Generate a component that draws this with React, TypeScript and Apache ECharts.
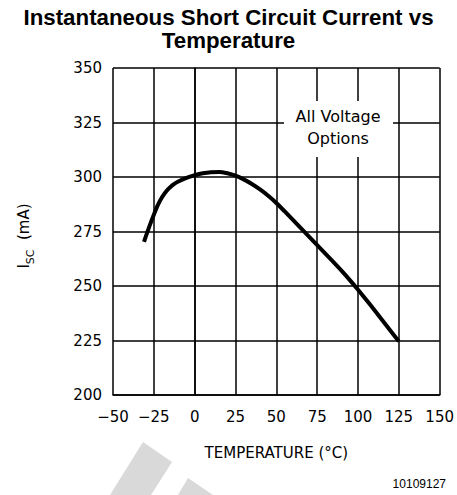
import React, { useEffect, useRef } from "react";
import * as echarts from "echarts";

const titleText = "Instantaneous Short Circuit Current vs\nTemperature";
const xAxisName = "TEMPERATURE (°C)";
const figureId = "10109127";
const annotationLines = ["All Voltage", "Options"];

const xTicks = { min: -50, max: 150, interval: 25 };
const yTicks = { min: 200, max: 350, interval: 25 };

const temperature = [
  -31, -30, -27.5, -25, -22.5, -20, -17.5, -15, -12.5, -10, -5, 0, 5, 10, 15, 20, 25,
  30, 35, 40, 45, 50, 55, 60, 65, 70, 75, 80, 85, 90, 95, 100, 105, 110, 115, 120, 125,
];
const iscCurrent = [
  270.2, 272.5, 277.8, 282.7, 287.2, 290.7, 293.4, 295.3, 296.8, 297.9, 299.6, 300.8, 301.7, 302.2, 302.3, 301.7, 300.6,
  298.9, 296.8, 294.3, 291.4, 288.1, 284.3, 280.4, 276.5, 272.6, 268.7, 264.8, 260.9, 256.9, 252.7, 248.3, 243.7, 239.0, 234.2, 229.4, 224.6,
];

const TICK_FONT = "'DejaVu Sans', sans-serif";

export default function App() {
  const ref = useRef<HTMLDivElement>(null);
  useEffect(() => {
    if (!ref.current) return;
    const chart = echarts.init(ref.current, null, { renderer: "svg" });
    const seriesData = temperature.map((t, i) => [t, iscCurrent[i]]);
    const fmt = (v: number) => (v < 0 ? "\u2212" + Math.abs(v) : String(v));
    chart.setOption({
      animation: false,
      backgroundColor: "#ffffff",
      title: {
        text: titleText,
        left: "center",
        top: 1,
        textStyle: {
          fontFamily: "Arial, 'Liberation Sans', sans-serif",
          fontWeight: "bold",
          fontSize: 22.3,
          lineHeight: 23,
          color: "#000",
        },
      },
      grid: { left: 113, top: 68, right: 16, bottom: 100, containLabel: false },
      xAxis: {
        type: "value",
        min: xTicks.min,
        max: xTicks.max,
        interval: xTicks.interval,
        name: xAxisName,
        nameLocation: "middle",
        nameGap: 50,
        nameTextStyle: { fontFamily: TICK_FONT, fontSize: 15, color: "#000" },
        axisLine: { show: true, lineStyle: { color: "#000", width: 1.5 } },
        axisTick: { show: false },
        axisLabel: { fontFamily: TICK_FONT, fontSize: 15, color: "#000", margin: 14, formatter: fmt },
        splitLine: { show: true, lineStyle: { color: "#000", width: 1.5 } },
      },
      yAxis: {
        type: "value",
        min: yTicks.min,
        max: yTicks.max,
        interval: yTicks.interval,
        axisLine: { show: true, lineStyle: { color: "#000", width: 1.5 } },
        axisTick: { show: false },
        axisLabel: { fontFamily: TICK_FONT, fontSize: 15, color: "#000", margin: 11, formatter: fmt },
        splitLine: { show: true, lineStyle: { color: "#000", width: 1.5 } },
      },
      series: [
        {
          type: "line",
          data: seriesData,
          smooth: 0.2,
          symbol: "none",
          lineStyle: { color: "#000", width: 4 },
          z: 5,
        },
      ],
      graphic: [
        {
          type: "polygon",
          z: -10,
          shape: { points: [[143, 442], [172, 462], [151, 495], [110, 495]] },
          style: { fill: "#d9d9d9" },
        },
        {
          type: "polygon",
          z: -10,
          shape: { points: [[188, 478], [213, 495], [178, 495]] },
          style: { fill: "#d9d9d9" },
        },
        {
          type: "rect",
          z: 100,
          shape: { x: 284, y: 101, width: 109, height: 56 },
          style: { fill: "#ffffff" },
        },
        {
          type: "text",
          z: 101,
          x: 338,
          y: 116,
          style: {
            text: annotationLines[0],
            fontFamily: TICK_FONT,
            fontSize: 16,
            fill: "#000",
            textAlign: "center",
            textVerticalAlign: "middle",
          },
        },
        {
          type: "text",
          z: 101,
          x: 338,
          y: 138,
          style: {
            text: annotationLines[1],
            fontFamily: TICK_FONT,
            fontSize: 16,
            fill: "#000",
            textAlign: "center",
            textVerticalAlign: "middle",
          },
        },
        {
          type: "text",
          z: 101,
          x: 24,
          y: 236,
          rotation: Math.PI / 2,
          style: {
            text: "{a|I}{b|SC}{a|  (mA)}",
            fill: "#000",
            textAlign: "center",
            textVerticalAlign: "middle",
            rich: {
              a: { fontFamily: TICK_FONT, fontSize: 15, lineHeight: 24, fill: "#000" },
              b: { fontFamily: TICK_FONT, fontSize: 11, lineHeight: 11, verticalAlign: "bottom", fill: "#000" },
            },
          },
        },
        {
          type: "text",
          z: 101,
          x: 446,
          y: 484,
          style: {
            text: figureId,
            fontFamily: "Arial, 'Liberation Sans', sans-serif",
            fontSize: 12,
            fill: "#000",
            textAlign: "right",
            textVerticalAlign: "middle",
          },
        },
      ],
    });
    return () => chart.dispose();
  }, []);
  return (
    <div
      ref={ref}
      style={{ position: "fixed", left: 0, top: 0, width: 457, height: 495 }}
    />
  );
}
